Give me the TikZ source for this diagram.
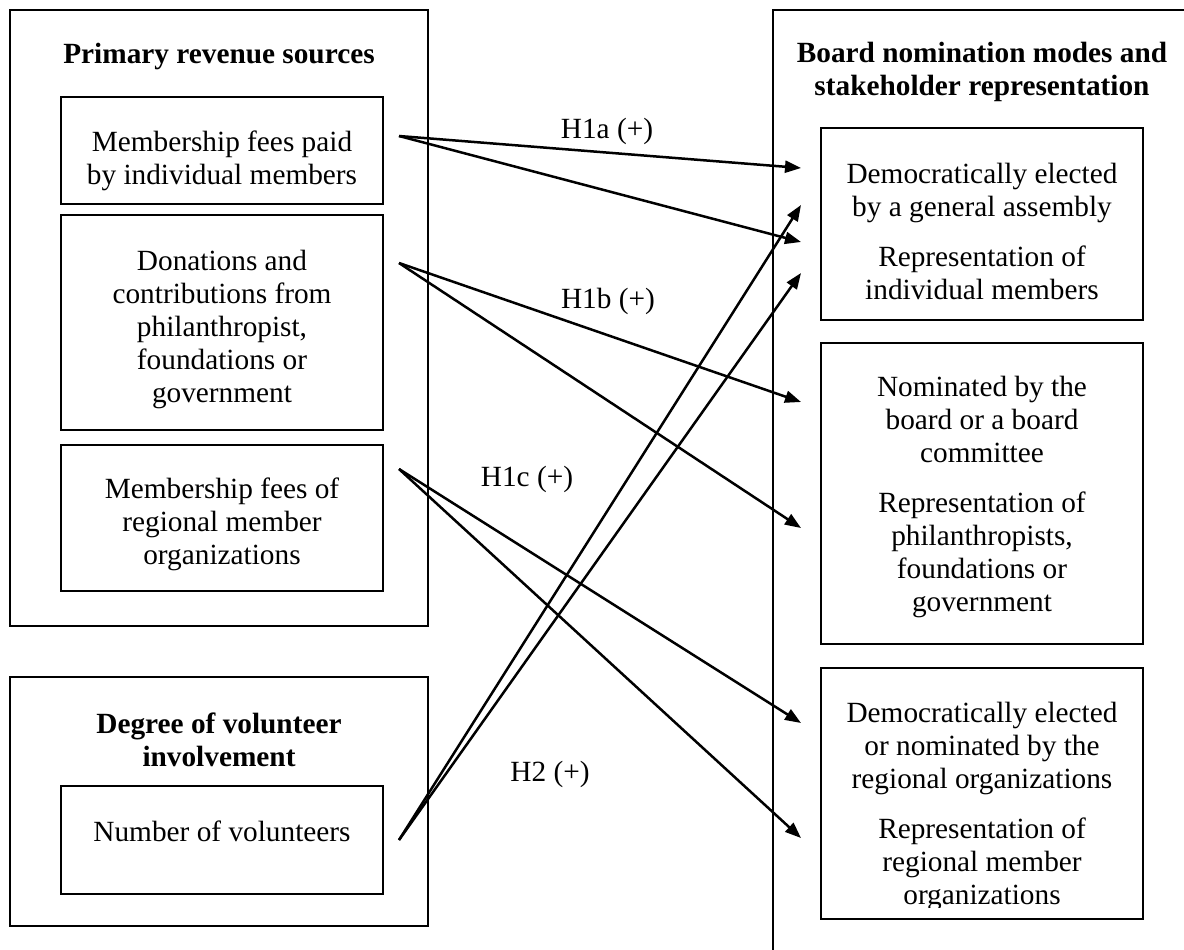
\documentclass[tikz,border=0pt]{standalone}
\usepackage{fontspec}
\setmainfont{Liberation Serif}
\usetikzlibrary{arrows.meta}
\begin{document}
\begin{tikzpicture}[x=0.5pt,y=-0.5pt,
  box/.style={draw,line width=1.3pt,inner sep=0pt,outer sep=0pt},
  txt/.style={align=center,font=\fontsize{14.65}{16.5}\selectfont,inner sep=0pt},
  ttl/.style={align=center,font=\fontsize{14.65}{16.5}\selectfont\bfseries,inner sep=0pt},
  arr/.style={line width=1.25pt,-{Triangle[length=8pt,width=6pt]}}]
\useasboundingbox (0,0) rectangle (1184,949);
\clip (0,0) rectangle (1184,949);
% left group: revenue sources
\node[box,minimum width=209pt,minimum height=308pt] (outer1) at (219,318) {};
\node[ttl] (t1) at (219,56) {Primary revenue sources};
\node[box,minimum width=161pt,minimum height=53.5pt] (A) at (222,150.5) {};
\node[txt] (tA) at (222,161) {Membership fees paid\\by individual members};
\node[box,minimum width=161pt,minimum height=107.5pt] (B) at (222,322.5) {};
\node[txt] (tB) at (222,329) {Donations and\\contributions from\\philanthropist,\\foundations or\\government};
\node[box,minimum width=161pt,minimum height=73pt] (C) at (222,518) {};
\node[txt] (tC) at (222,524) {Membership fees of\\regional member\\organizations};
% left group: volunteers
\node[box,minimum width=209pt,minimum height=124.5pt] (outer2) at (219,801.5) {};
\node[ttl] (t2) at (219,740) {Degree of volunteer\\involvement};
\node[box,minimum width=161pt,minimum height=54pt] (D) at (222,840) {};
\node[txt] (tD) at (222,831) {Number of volunteers};
% right group
\node[box,minimum width=211pt,minimum height=475pt] (outer3) at (984,485) {};
\node[ttl] (t3) at (982,72) {Board nomination modes and\\stakeholder representation};
\node[box,minimum width=161pt,minimum height=96pt] (E) at (982,224) {};
\node[txt] (tE) at (982,231) {Democratically elected\\by a general assembly\\[8.5pt]Representation of\\individual members};
\node[box,minimum width=161pt,minimum height=150.5pt] (F) at (982,493.5) {};
\node[txt] (tF) at (982,497) {Nominated by the\\board or a board\\committee\\[8.5pt]Representation of\\philanthropists,\\foundations or\\government};
\node[box,minimum width=161pt,minimum height=125.5pt] (G) at (982,793.5) {};
\begin{scope}
\clip (G.north west) rectangle ([yshift=6pt]G.south east);
\node[txt] (tG) at (982,806) {Democratically elected\\or nominated by the\\regional organizations\\[8.5pt]Representation of\\regional member\\organizations};
\end{scope}
% arrow end points
\coordinate (sA) at (399,136);
\coordinate (sB) at (399,263);
\coordinate (sC) at (399,469);
\coordinate (sD) at (399,840);
\coordinate (eA1) at (801,168);
\coordinate (eA2) at (801,242);
\coordinate (eB1) at (801,402);
\coordinate (eB2) at (801,528);
\coordinate (eC1) at (801,723);
\coordinate (eC2) at (801,838);
\coordinate (eD1) at (801,205);
\coordinate (eD2) at (801,273);
\draw[arr] (sA) -- (eA1);
\draw[arr] (sA) -- (eA2);
\draw[arr] (sB) -- (eB1);
\draw[arr] (sB) -- (eB2);
\draw[arr] (sC) -- (eC1);
\draw[arr] (sC) -- (eC2);
\draw[arr] (sD) -- (eD1);
\draw[arr] (sD) -- (eD2);
% labels
\node[txt] (h1a) at (607,131) {H1a (+)};
\node[txt] (h1b) at (608,301) {H1b (+)};
\node[txt] (h1c) at (527,479) {H1c (+)};
\node[txt] (h2) at (550,774) {H2 (+)};
\end{tikzpicture}
\end{document}
